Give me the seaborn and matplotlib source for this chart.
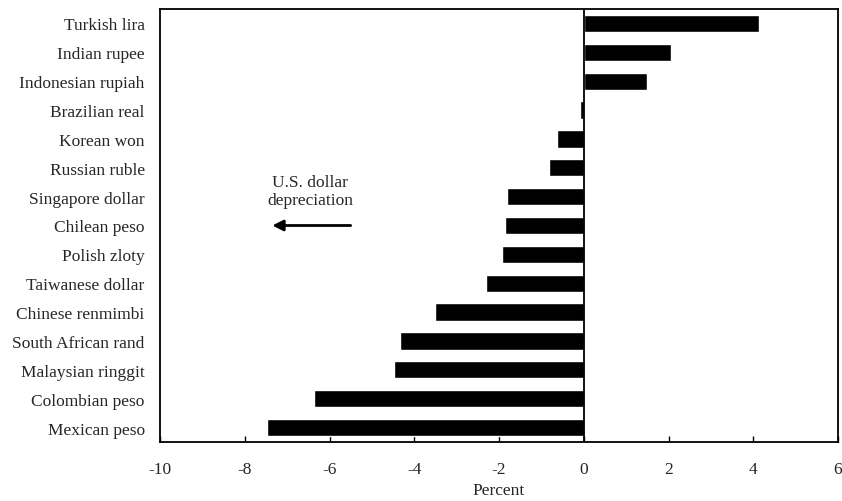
import matplotlib
matplotlib.use("Agg")
import matplotlib.pyplot as plt
import seaborn as sns
import pandas as pd

currencies = ["Turkish lira", "Indian rupee", "Indonesian rupiah", "Brazilian real",
              "Korean won", "Russian ruble", "Singapore dollar", "Chilean peso",
              "Polish zloty", "Taiwanese dollar", "Chinese renmimbi", "South African rand",
              "Malaysian ringgit", "Colombian peso", "Mexican peso"]
values = [4.13, 2.05, 1.49, -0.08, -0.64, -0.83, -1.82, -1.85, -1.94, -2.30,
          -3.52, -4.34, -4.48, -6.37, -7.48]
xticks = [-10, -8, -6, -4, -2, 0, 2, 4, 6]

df = pd.DataFrame({"currency": currencies, "value": values})

sns.set_theme(style="white")
plt.rcParams["font.family"] = ["Liberation Serif", "DejaVu Serif"]

fig = plt.figure(figsize=(8.42, 5.02), dpi=100)
ax = fig.add_axes([160/842, 1 - 443/502, (838-160)/842, (443-10)/502])

sns.barplot(data=df, x="value", y="currency", orient="h", color="black",
            width=0.6, ax=ax, saturation=1)
ax.set_xlim(-10, 6)
ax.set_ylim(14.5, -0.5)
ax.axvline(0, color="black", lw=1.3)
ax.set_xticks(xticks)
ax.set_xticklabels([str(t) for t in xticks], fontsize=12.5)
ax.tick_params(axis="x", direction="in", length=4, width=1, color="black", pad=14, bottom=True)
ax.tick_params(axis="y", length=0, labelsize=12.5, pad=11)
for s in ax.spines.values():
    s.set_color("black")
    s.set_linewidth(1.3)
ax.set_ylabel("")
ax.set_xlabel("Percent", fontsize=12.5, labelpad=3)

ax.text(-6.45, 5.8, "U.S. dollar\ndepreciation", ha="center", va="center",
        fontsize=12.5, linespacing=1.15)
ax.annotate("", xy=(-7.35, 7.0), xytext=(-5.5, 7.0),
            arrowprops=dict(arrowstyle="-|>", color="black", lw=2,
                            mutation_scale=16, shrinkA=0, shrinkB=0))

fig.savefig("out.png", dpi=100)
